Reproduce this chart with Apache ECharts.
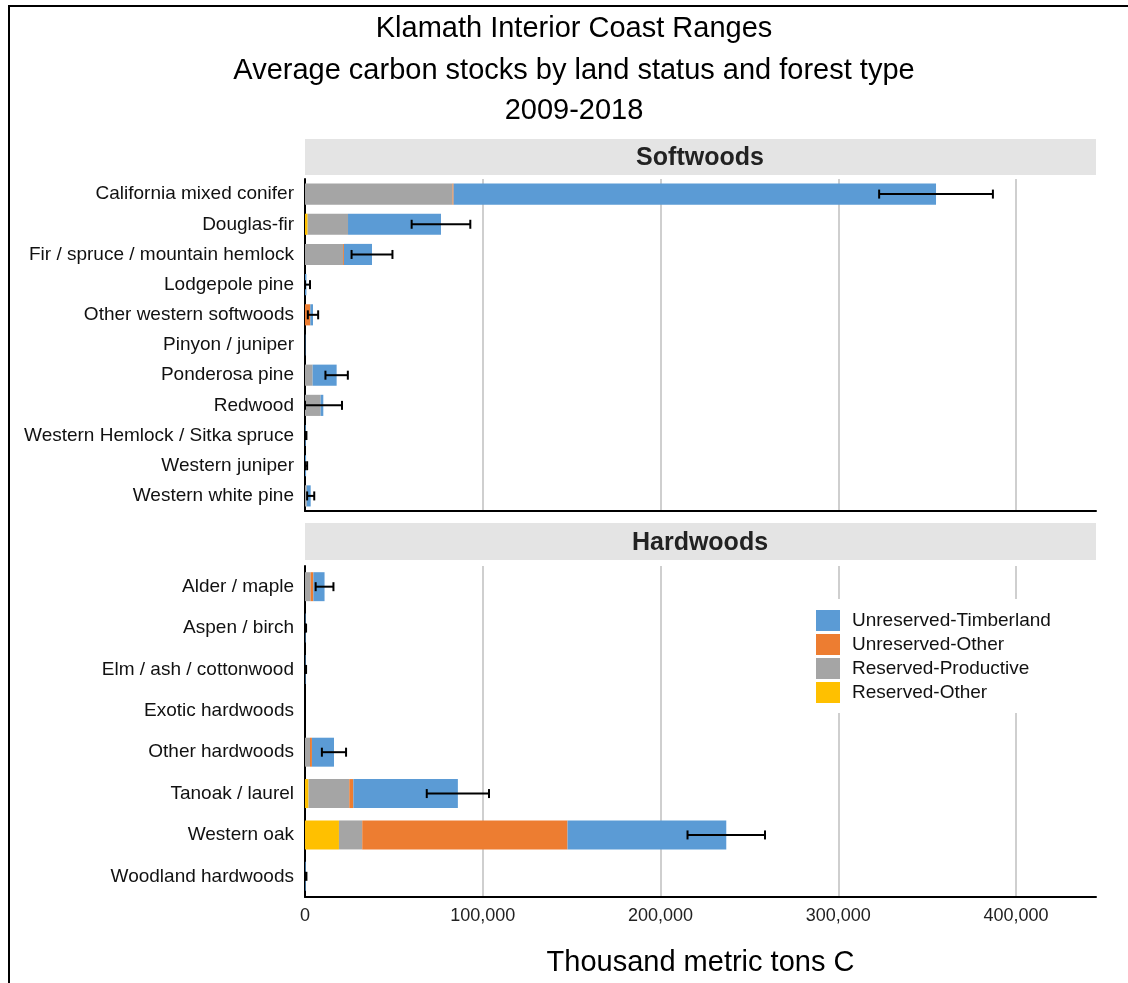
<!DOCTYPE html>
<html>
<head>
<meta charset="utf-8">
<title>Klamath Interior Coast Ranges - carbon stocks</title>
<script src="https://cdn.jsdelivr.net/npm/echarts@6/dist/echarts.min.js"></script>
<style>
  html, body { margin: 0; padding: 0; background: #fff; }
  #chart { width: 1128px; height: 983px; }
</style>
</head>
<body>
<div id="chart"></div>
<script>
// Forest type groups (thousand metric tons C)
const softCategories = ['California mixed conifer', 'Douglas-fir', 'Fir / spruce / mountain hemlock', 'Lodgepole pine',
  'Other western softwoods', 'Pinyon / juniper', 'Ponderosa pine', 'Redwood',
  'Western Hemlock / Sitka spruce', 'Western juniper', 'Western white pine'];
const softReservedOther        = [0, 1500, 0, 0, 0, 0, 0, 0, 0, 0, 0];
const softReservedProductive   = [83000, 22700, 21400, 0, 0, 0, 4300, 8800, 0, 0, 1000];
const softUnreservedOther      = [600, 0, 500, 0, 3000, 0, 0, 0, 0, 0, 0];
const softUnreservedTimberland = [271400, 52300, 15800, 800, 1500, 200, 13500, 1500, 400, 600, 2200];
const softError                = [32000, 16500, 11500, 2000, 2900, 0, 6300, 10500, 400, 600, 2000];

const hardCategories = ['Alder / maple', 'Aspen / birch', 'Elm / ash / cottonwood', 'Exotic hardwoods',
  'Other hardwoods', 'Tanoak / laurel', 'Western oak', 'Woodland hardwoods'];
const hardReservedOther        = [0, 0, 0, 0, 0, 2000, 19100, 0];
const hardReservedProductive   = [3200, 0, 0, 0, 2800, 22900, 13100, 0];
const hardUnreservedOther      = [1500, 0, 0, 0, 1100, 2300, 115500, 0];
const hardUnreservedTimberland = [6300, 300, 300, 0, 12400, 58800, 89300, 400];
const hardError                = [5000, 300, 300, 0, 6800, 17500, 21800, 400];

const statusNames = ['Reserved-Other', 'Reserved-Productive', 'Unreserved-Other', 'Unreserved-Timberland'];
const statusColors = ['#FFC000', '#A5A5A5', '#ED7D31', '#5B9BD5'];
const xTicks = [0, 100000, 200000, 300000, 400000];

const FONT = "'Liberation Sans', Arial, sans-serif";
const X_MAX = 445000;

function totals(parts) {
  return parts[0].map((_, i) => parts.reduce((s, p) => s + p[i], 0));
}
function errorData(parts, err) {
  const t = totals(parts);
  return t.map((v, i) => [i, Math.max(0, v - err[i]), v + err[i]]);
}

const softParts = [softReservedOther, softReservedProductive, softUnreservedOther, softUnreservedTimberland];
const hardParts = [hardReservedOther, hardReservedProductive, hardUnreservedOther, hardUnreservedTimberland];

function renderErrorBar(params, api) {
  const idx = api.value(0);
  const lo = api.coord([api.value(1), idx]);
  const hi = api.coord([api.value(2), idx]);
  const cap = 4.5;
  const style = { stroke: '#000', lineWidth: 2 };
  return {
    type: 'group',
    children: [
      { type: 'line', shape: { x1: lo[0], y1: lo[1], x2: hi[0], y2: hi[1] }, style },
      { type: 'line', shape: { x1: lo[0], y1: lo[1] - cap, x2: lo[0], y2: lo[1] + cap }, style },
      { type: 'line', shape: { x1: hi[0], y1: hi[1] - cap, x2: hi[0], y2: hi[1] + cap }, style }
    ]
  };
}

function barSeries(parts, gridIdx) {
  return parts.map((vals, k) => ({
    name: statusNames[k],
    type: 'bar',
    stack: 'g' + gridIdx,
    xAxisIndex: gridIdx,
    yAxisIndex: gridIdx,
    barWidth: '70%',
    itemStyle: { color: statusColors[k] },
    emphasis: { disabled: true },
    data: vals
  }));
}

function xAxisDef(gridIdx, showLabels) {
  return {
    type: 'value', gridIndex: gridIdx, min: 0, max: X_MAX, interval: 100000,
    axisLine: { show: true, onZero: false, lineStyle: { color: '#000', width: 2 } },
    axisTick: { show: false },
    splitLine: { show: true, showMinLine: false, showMaxLine: false, lineStyle: { color: '#cfcfcf', width: 2 } },
    axisLabel: {
      show: showLabels, showMaxLabel: false, margin: 10,
      fontFamily: FONT, fontSize: 18, color: '#222',
      formatter: v => xTicks.includes(v) ? v.toLocaleString('en-US') : ''
    },
    name: showLabels ? 'Thousand metric tons C' : '',
    nameLocation: 'middle', nameGap: 51,
    nameTextStyle: { fontFamily: FONT, fontSize: 29, color: '#000' }
  };
}

function yAxisDef(gridIdx, cats) {
  return {
    type: 'category', gridIndex: gridIdx, data: cats, inverse: true,
    axisLine: { show: true, lineStyle: { color: '#000', width: 2 } },
    axisTick: { show: false },
    axisLabel: { fontFamily: FONT, fontSize: 19, color: '#111', margin: 11 }
  };
}

const chart = echarts.init(document.getElementById('chart'), null, { renderer: 'canvas' });

const option = {
  animation: false,
  backgroundColor: '#fff',
  grid: [
    { left: 305, right: 32, top: 179, height: 332 },
    { left: 305, right: 32, top: 566, height: 331 }
  ],
  xAxis: [xAxisDef(0, false), xAxisDef(1, true)],
  yAxis: [yAxisDef(0, softCategories), yAxisDef(1, hardCategories)],
  legend: {
    data: statusNames.slice().reverse(),
    orient: 'vertical',
    left: 804, top: 599,
    itemWidth: 24, itemHeight: 21, itemGap: 3,
    icon: 'rect',
    backgroundColor: '#fff',
    padding: [11, 14, 10, 12],
    selectedMode: false,
    textStyle: { fontFamily: FONT, fontSize: 19, color: '#111', padding: [0, 0, 0, 7] }
  },
  graphic: [
    // page frame
    { type: 'polyline', shape: { points: [[9, 983], [9, 6], [1128, 6]] }, style: { stroke: '#000', lineWidth: 2, fill: null } },
    // titles
    { type: 'text', x: 574, y: 29, style: { text: 'Klamath Interior Coast Ranges', font: '29px ' + FONT, fill: '#000', textAlign: 'center', textVerticalAlign: 'middle' } },
    { type: 'text', x: 574, y: 71, style: { text: 'Average carbon stocks by land status and forest type', font: '29px ' + FONT, fill: '#000', textAlign: 'center', textVerticalAlign: 'middle' } },
    { type: 'text', x: 574, y: 111, style: { text: '2009-2018', font: '29px ' + FONT, fill: '#000', textAlign: 'center', textVerticalAlign: 'middle' } },
    // panel headers
    { type: 'rect', shape: { x: 305, y: 139, width: 791, height: 36 }, style: { fill: '#e4e4e4' } },
    { type: 'text', x: 700, y: 158, style: { text: 'Softwoods', font: 'bold 25px ' + FONT, fill: '#222', textAlign: 'center', textVerticalAlign: 'middle' } },
    { type: 'rect', shape: { x: 305, y: 523, width: 791, height: 37 }, style: { fill: '#e4e4e4' } },
    { type: 'text', x: 700, y: 543, style: { text: 'Hardwoods', font: 'bold 25px ' + FONT, fill: '#222', textAlign: 'center', textVerticalAlign: 'middle' } }
  ],
  series: [
    ...barSeries(softParts, 0),
    ...barSeries(hardParts, 1),
    {
      name: 'softError', type: 'custom', xAxisIndex: 0, yAxisIndex: 0, z: 10,
      renderItem: renderErrorBar, encode: { x: [1, 2], y: 0 },
      data: errorData(softParts, softError).filter((d, i) => softError[i] > 0)
    },
    {
      name: 'hardError', type: 'custom', xAxisIndex: 1, yAxisIndex: 1, z: 10,
      renderItem: renderErrorBar, encode: { x: [1, 2], y: 0 },
      data: errorData(hardParts, hardError).filter((d, i) => hardError[i] > 0)
    }
  ]
};

chart.setOption(option);
</script>
</body>
</html>
